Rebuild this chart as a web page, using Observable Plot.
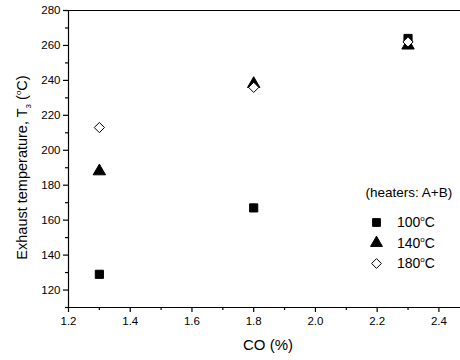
<!DOCTYPE html>
<html>
<head>
<meta charset="utf-8">
<script src="https://cdn.jsdelivr.net/npm/d3@7"></script>
<script src="https://cdn.jsdelivr.net/npm/@observablehq/plot@0.6"></script>
<style>
  html, body { margin: 0; padding: 0; background: #fff; }
  #chart svg { display: block; font-family: "Liberation Sans", Arial, sans-serif; }
</style>
</head>
<body>
<div id="chart"></div>
<script>
// CO concentration (%) at which each exhaust temperature was measured
const coLevels = [1.3, 1.8, 2.3];
// Exhaust temperature T3 (°C) for each heater set-point (heaters A+B)
const temp100 = [129, 167, 264];
const temp140 = [188, 238, 260];
const temp180 = [213, 236, 262];
const seriesNames = ["100", "140", "180"];
const seriesSymbols = ["square", "triangle", "diamond2"];
const seriesFills = ["black", "black", "white"];
const xTicks = [1.2, 1.4, 1.6, 1.8, 2.0, 2.2, 2.4];
const yTicks = [120, 140, 160, 180, 200, 220, 240, 260, 280];
const legendTitle = "(heaters: A+B)";

const series = [temp100, temp140, temp180];
const points = series.flatMap((vals, s) =>
  vals.map((t, i) => ({co: coLevels[i], t, s}))
);

const W = 460, H = 360;
const mL = 68, mT = 10, mB = 53, mR = 0;
const xMinor = [1.3, 1.5, 1.7, 1.9, 2.1, 2.3];
const yMinor = [110, 130, 150, 170, 190, 210, 230, 250, 270];

// legend block, placed relative to the top-left corner of the frame
const legX = 308, legY = 212, legStep = 20.5;
const legendMarks = seriesNames.map((name, s) =>
  Plot.dot([s], {
    frameAnchor: "top-left", dx: legX, dy: legY + legStep * s,
    symbol: d => d, r: 4.4,
    fill: seriesFills[s], stroke: "black", strokeWidth: 1
  })
);

const plot = Plot.plot({
  width: W,
  height: H,
  marginLeft: mL,
  marginTop: mT,
  marginBottom: mB,
  marginRight: mR,
  style: {fontFamily: "Liberation Sans, Arial, sans-serif", fontSize: "11px", color: "#000", background: "#fff"},
  x: {domain: [1.2, 2.47]},
  y: {domain: [110, 280]},
  symbol: {domain: [0, 1, 2], range: seriesSymbols},
  marks: [
    // frame lines: left, bottom, top
    Plot.ruleX([1.2], {stroke: "#000", strokeWidth: 1.2}),
    Plot.ruleY([110], {stroke: "#000", strokeWidth: 1.2}),
    Plot.ruleY([280], {stroke: "#000", strokeWidth: 1.2}),
    Plot.axisX({ticks: xTicks, tickSize: 5, tickPadding: 4, tickFormat: d3.format(".1f"), label: null, fontSize: 11.5, strokeWidth: 1.2}),
    Plot.axisX({ticks: xMinor, tickSize: 3, text: null, label: null, strokeWidth: 1.2}),
    Plot.axisY({ticks: yTicks, tickSize: 5, tickPadding: 3, label: null, fontSize: 11.5, strokeWidth: 1.2}),
    Plot.axisY({ticks: yMinor, tickSize: 3, text: null, label: null, strokeWidth: 1.2}),
    Plot.dot(points, {
      x: "co", y: "t", symbol: "s", r: 4.6,
      fill: d => seriesFills[d.s], stroke: "black", strokeWidth: 1
    }),
    Plot.text([legendTitle], {
      frameAnchor: "top-left", dx: 297, dy: 177, text: d => d,
      fontSize: 13.5, textAnchor: "start", fill: "black"
    }),
    ...legendMarks
  ]
});

const svg = d3.select(plot);

// legend labels with a raised degree sign
seriesNames.forEach((name, s) => {
  const t = svg.append("text")
    .attr("x", mL + 329)
    .attr("y", mT + legY + legStep * s + 5)
    .attr("text-anchor", "start")
    .attr("font-size", 14)
    .attr("fill", "black");
  t.append("tspan").text(name);
  t.append("tspan").attr("font-size", 8).attr("dy", -6).text("o");
  t.append("tspan").attr("dy", 6).text("C");
});

// x-axis title
svg.append("text")
  .attr("x", 268)
  .attr("y", 350)
  .attr("text-anchor", "middle")
  .attr("font-size", 15)
  .attr("fill", "black")
  .text("CO (%)");

// y-axis title with subscript and superscript
const yl = svg.append("text")
  .attr("transform", `translate(27,167.5) rotate(-90)`)
  .attr("text-anchor", "middle")
  .attr("font-size", 14.5)
  .attr("fill", "black");
yl.append("tspan").text("Exhaust temperature, T");
yl.append("tspan").attr("font-size", 8).attr("dy", 4).text("3");
yl.append("tspan").attr("dy", -4).text(" (");
yl.append("tspan").attr("font-size", 8).attr("dy", -6).text("o");
yl.append("tspan").attr("dy", 6).text("C)");

document.getElementById("chart").appendChild(plot);
</script>
</body>
</html>
